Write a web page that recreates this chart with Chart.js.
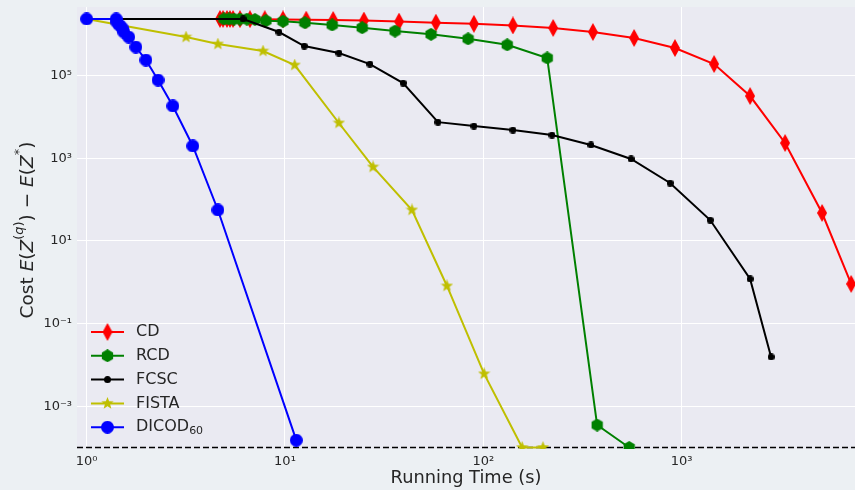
<!DOCTYPE html>
<html>
<head>
<meta charset="utf-8">
<script src="https://cdn.jsdelivr.net/npm/chart.js@4/dist/chart.umd.min.js"></script>
<style>
  html, body { margin: 0; padding: 0; background: #ECF0F3; }
  canvas { display: block; }
</style>
</head>
<body>
<canvas id="costChart" width="855" height="490"></canvas>
<script>
// Running time (s) and cost E(Z^(q)) - E(Z*) for each solver
const cdTime = [4.70, 4.87, 5.10, 5.28, 5.47, 5.93, 6.66, 7.91, 9.77, 12.8, 17.5, 25.0, 37.6, 57.7, 89.7, 141, 225, 357, 576, 926, 1458, 2215, 3324, 5110, 7160];
const cdCost = [2.30e6, 2.30e6, 2.29e6, 2.29e6, 2.29e6, 2.28e6, 2.27e6, 2.26e6, 2.24e6, 2.21e6, 2.17e6, 2.10e6, 1.98e6, 1.87e6, 1.75e6, 1.60e6, 1.39e6, 1.11e6, 7.96e5, 4.56e5, 1.87e5, 3.16e4, 2.32e3, 47.4, 0.92];

const rcdTime = [4.92, 5.22, 5.53, 5.93, 6.43, 7.06, 8.02, 9.77, 12.6, 17.3, 24.5, 35.9, 54.5, 83.8, 132, 210, 375, 544];
const rcdCost = [2.29e6, 2.29e6, 2.28e6, 2.28e6, 2.27e6, 2.22e6, 2.08e6, 2.01e6, 1.86e6, 1.64e6, 1.41e6, 1.17e6, 9.75e5, 7.6e5, 5.44e5, 2.62e5, 3.6e-4, 1.03e-4];

const fcscTime = [1.0, 6.15, 9.33, 12.5, 18.7, 26.8, 39.4, 59.1, 89.7, 141, 222, 349, 556, 874, 1393, 2215, 2826];
const fcscCost = [2.29e6, 2.29e6, 1.11e6, 5.1e5, 3.45e5, 1.87e5, 6.5e4, 7.4e3, 5.97e3, 4.78e3, 3.62e3, 2.08e3, 955, 251, 32, 1.21, 0.0159];

const fistaTime = [1.0, 3.17, 4.59, 7.75, 11.2, 18.7, 27.8, 43.7, 65.6, 101, 157, 200];
const fistaCost = [2.29e6, 8.4e5, 5.69e5, 3.86e5, 1.77e5, 7.06e3, 612, 56, 0.82, 6.2e-3, 1.03e-4, 1.03e-4];

const dicodTime = [1.0, 1.41, 1.42, 1.46, 1.51, 1.54, 1.63, 1.77, 1.99, 2.29, 2.72, 3.43, 4.59, 11.4];
const dicodCost = [2.29e6, 2.29e6, 1.93e6, 1.64e6, 1.39e6, 1.11e6, 8.4e5, 4.82e5, 2.34e5, 7.7e4, 1.82e4, 1.97e3, 56, 1.55e-4];

const epsCost = 1.03e-4;
const xTicks = [1, 10, 100, 1000];
const yTicks = [1e-3, 1e-1, 1e1, 1e3, 1e5];
const xRange = [0.894, 7487];
const yRange = [9.5e-5, 4.46e6];

const textColor = '#262626';
const fontName = '"DejaVu Sans", sans-serif';

// marker images, roughly like matplotlib's 'd', 'h', '.', '*', 'o'
const makeMarker = (kind, color, w, h) => {
    const c = document.createElement('canvas');
    c.width = w; c.height = h;
    const g = c.getContext('2d');
    g.fillStyle = color;
    g.beginPath();
    const cx = w / 2, cy = h / 2;
    if (kind === 'thinDiamond') {
        g.moveTo(cx, 0); g.lineTo(w, cy); g.lineTo(cx, h); g.lineTo(0, cy);
    } else if (kind === 'hexagon') {
        const r = w / 2;
        for (let i = 0; i < 6; i++) {
            const a = -Math.PI / 2 + i * Math.PI / 3;
            g.lineTo(cx + r * Math.cos(a), cy + r * Math.sin(a));
        }
    } else if (kind === 'star') {
        const r = w / 2, ri = r * 0.42;
        for (let i = 0; i < 10; i++) {
            const a = -Math.PI / 2 + i * Math.PI / 5;
            const rr = i % 2 ? ri : r;
            g.lineTo(cx + rr * Math.cos(a), cy + rr * Math.sin(a));
        }
    } else {
        g.arc(cx, cy, w / 2, 0, Math.PI * 2);
    }
    g.closePath();
    g.fill();
    return c;
};

const series = [
    { label: 'CD', sub: '', time: cdTime, cost: cdCost, color: '#FF0000', marker: makeMarker('thinDiamond', '#FF0000', 10, 18) },
    { label: 'RCD', sub: '', time: rcdTime, cost: rcdCost, color: '#008000', marker: makeMarker('hexagon', '#008000', 13, 13) },
    { label: 'FCSC', sub: '', time: fcscTime, cost: fcscCost, color: '#000000', marker: makeMarker('circle', '#000000', 7, 7) },
    { label: 'FISTA', sub: '', time: fistaTime, cost: fistaCost, color: '#BFBF00', marker: makeMarker('star', '#BFBF00', 13, 13) },
    { label: 'DICOD', sub: '60', time: dicodTime, cost: dicodCost, color: '#0000FF', marker: makeMarker('circle', '#0000FF', 13, 13) }
];

const datasets = series.map((s, i) => ({
    label: s.label,
    data: s.time.map((t, j) => ({ x: t, y: s.cost[j] })),
    borderColor: s.color,
    backgroundColor: s.color,
    borderWidth: 2,
    pointStyle: s.marker,
    pointRadius: 5,
    pointHoverRadius: 5,
    tension: 0,
    order: series.length - i
}));

datasets.push({
    label: 'eps',
    data: [{ x: xRange[0], y: epsCost }, { x: xRange[1], y: epsCost }],
    borderColor: '#000000',
    borderWidth: 1.5,
    borderDash: [6, 3],
    pointRadius: 0,
    order: 10
});

const supMap = { '-': '⁻', '0': '⁰', '1': '¹', '2': '²', '3': '³', '4': '⁴', '5': '⁵', '6': '⁶', '7': '⁷', '8': '⁸', '9': '⁹' };
const powerLabel = v => '10' + String(Math.round(Math.log10(v))).split('').map(c => supMap[c]).join('');

// plot background
const areaBackground = {
    id: 'areaBackground',
    beforeDraw(chart) {
        const { ctx, chartArea: a } = chart;
        ctx.save();
        ctx.fillStyle = '#EAEAF2';
        ctx.fillRect(a.left, a.top, a.right - a.left, a.bottom - a.top);
        ctx.restore();
    }
};

// y title with italic letters and superscripts, like the mathtext label
const yTitle = {
    id: 'yTitle',
    afterDraw(chart) {
        const { ctx, chartArea: a } = chart;
        const big = '18.5px ' + fontName, bigIt = 'italic 18.5px ' + fontName;
        const small = '13px ' + fontName, smallIt = 'italic 13px ' + fontName;
        const parts = [
            { t: 'Cost ', f: big }, { t: 'E', f: bigIt }, { t: '(', f: big }, { t: 'Z', f: bigIt },
            { t: '(', f: small, dy: -8 }, { t: 'q', f: smallIt, dy: -8 }, { t: ')', f: small, dy: -8 },
            { t: ')', f: big }, { t: ' − ', f: big }, { t: 'E', f: bigIt }, { t: '(', f: big },
            { t: 'Z', f: bigIt }, { t: '*', f: small, dy: -8 }, { t: ')', f: big }
        ];
        ctx.save();
        let total = 0;
        parts.forEach(p => { ctx.font = p.f; p.w = ctx.measureText(p.t).width; total += p.w; });
        ctx.translate(28, (a.top + a.bottom) / 2 + 2);
        ctx.rotate(-Math.PI / 2);
        ctx.fillStyle = textColor;
        ctx.textBaseline = 'middle';
        let x = -total / 2;
        parts.forEach(p => { ctx.font = p.f; ctx.fillText(p.t, x, p.dy || 0); x += p.w; });
        ctx.restore();
    }
};

// legend in the lower left corner: line with marker, then the name
const lineLegend = {
    id: 'lineLegend',
    afterDraw(chart) {
        const { ctx } = chart;
        ctx.save();
        series.forEach((s, i) => {
            const y = 332 + i * 23.8;
            ctx.strokeStyle = s.color;
            ctx.lineWidth = 2;
            ctx.beginPath();
            ctx.moveTo(91, y); ctx.lineTo(124, y);
            ctx.stroke();
            ctx.drawImage(s.marker, 107.5 - s.marker.width / 2, y - s.marker.height / 2);
            ctx.fillStyle = textColor;
            ctx.textBaseline = 'middle';
            ctx.font = '16px ' + fontName;
            ctx.fillText(s.label, 136, y);
            if (s.sub) {
                const w = ctx.measureText(s.label).width;
                ctx.font = '11px ' + fontName;
                ctx.fillText(s.sub, 136 + w, y + 4);
            }
        });
        ctx.restore();
    }
};

new Chart(document.getElementById('costChart').getContext('2d'), {
    type: 'line',
    data: { datasets: datasets },
    plugins: [areaBackground, yTitle, lineLegend],
    options: {
        responsive: false,
        animation: false,
        layout: { autoPadding: false, padding: { top: 7, right: 0, left: 0, bottom: 0 } },
        plugins: {
            legend: { display: false },
            tooltip: { enabled: false }
        },
        scales: {
            x: {
                type: 'logarithmic',
                min: xRange[0],
                max: xRange[1],
                afterBuildTicks: s => { s.ticks = xTicks.map(v => ({ value: v })); },
                afterFit: s => { s.height = 41; s.paddingLeft = 0; s.paddingRight = 0; },
                ticks: {
                    callback: v => powerLabel(v),
                    color: textColor,
                    font: { family: fontName, size: 13 },
                    padding: 5,
                    maxRotation: 0,
                    autoSkip: false
                },
                grid: { color: '#FFFFFF', lineWidth: 1, drawTicks: false },
                border: { display: false },
                title: {
                    display: true,
                    text: 'Running Time (s)',
                    color: textColor,
                    font: { family: fontName, size: 17.8 },
                    padding: { top: 0, bottom: 1 }
                }
            },
            y: {
                type: 'logarithmic',
                min: yRange[0],
                max: yRange[1],
                afterBuildTicks: s => { s.ticks = yTicks.map(v => ({ value: v })); },
                afterFit: s => { s.width = 77; s.paddingTop = 0; s.paddingBottom = 0; },
                ticks: {
                    callback: v => powerLabel(v),
                    color: textColor,
                    font: { family: fontName, size: 13 },
                    padding: 5,
                    autoSkip: false
                },
                grid: { color: '#FFFFFF', lineWidth: 1, drawTicks: false },
                border: { display: false }
            }
        }
    }
});
</script>
</body>
</html>
